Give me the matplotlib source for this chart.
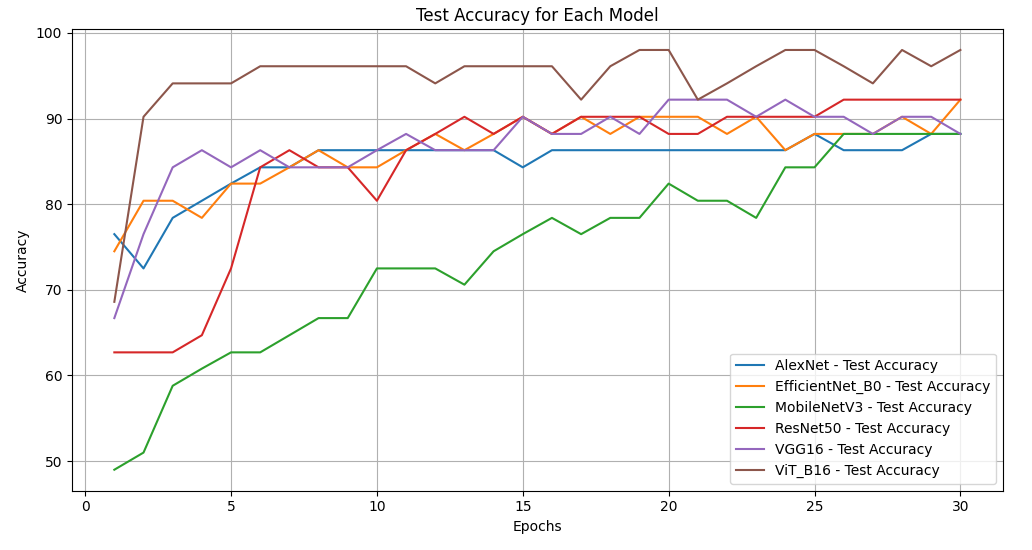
import matplotlib
matplotlib.use("Agg")
import matplotlib.pyplot as plt

epochs = list(range(1, 31))

# Test accuracy per epoch (%)
alexnet = [76.5, 72.5, 78.4, 80.4, 82.4, 84.3, 84.3, 86.3, 86.3, 86.3,
           86.3, 86.3, 86.3, 86.3, 84.3, 86.3, 86.3, 86.3, 86.3, 86.3,
           86.3, 86.3, 86.3, 86.3, 88.2, 86.3, 86.3, 86.3, 88.2, 88.2]
efficientnet = [74.5, 80.4, 80.4, 78.4, 82.4, 82.4, 84.3, 86.3, 84.3, 84.3,
                86.3, 88.2, 86.3, 88.2, 90.2, 88.2, 90.2, 88.2, 90.2, 90.2,
                90.2, 88.2, 90.2, 86.3, 88.2, 88.2, 88.2, 90.2, 88.2, 92.2]
mobilenet = [49.0, 51.0, 58.8, 60.8, 62.7, 62.7, 64.7, 66.7, 66.7, 72.5,
             72.5, 72.5, 70.6, 74.5, 76.5, 78.4, 76.5, 78.4, 78.4, 82.4,
             80.4, 80.4, 78.4, 84.3, 84.3, 88.2, 88.2, 88.2, 88.2, 88.2]
resnet = [62.7, 62.7, 62.7, 64.7, 72.5, 84.3, 86.3, 84.3, 84.3, 80.4,
          86.3, 88.2, 90.2, 88.2, 90.2, 88.2, 90.2, 90.2, 90.2, 88.2,
          88.2, 90.2, 90.2, 90.2, 90.2, 92.2, 92.2, 92.2, 92.2, 92.2]
vgg = [66.7, 76.5, 84.3, 86.3, 84.3, 86.3, 84.3, 84.3, 84.3, 86.3,
       88.2, 86.3, 86.3, 86.3, 90.2, 88.2, 88.2, 90.2, 88.2, 92.2,
       92.2, 92.2, 90.2, 92.2, 90.2, 90.2, 88.2, 90.2, 90.2, 88.2]
vit = [68.6, 90.2, 94.1, 94.1, 94.1, 96.1, 96.1, 96.1, 96.1, 96.1,
       96.1, 94.1, 96.1, 96.1, 96.1, 96.1, 92.2, 96.1, 98.0, 98.0,
       92.2, 94.1, 96.1, 98.0, 98.0, 96.1, 94.1, 98.0, 96.1, 98.0]

models = ["AlexNet", "EfficientNet_B0", "MobileNetV3", "ResNet50", "VGG16", "ViT_B16"]
series = [alexnet, efficientnet, mobilenet, resnet, vgg, vit]

fig = plt.figure(figsize=(10.32, 5.5), dpi=100)
ax = fig.add_axes([0.0698, 0.1078, 0.9018, 0.8395])

for name, acc in zip(models, series):
    ax.plot(epochs, acc, label=f"{name} - Test Accuracy")

ax.set_xlabel("Epochs")
ax.set_ylabel("Accuracy")
ax.set_title("Test Accuracy for Each Model")
ax.legend(loc="lower right")
ax.grid()

fig.savefig("out.png", dpi=100)
